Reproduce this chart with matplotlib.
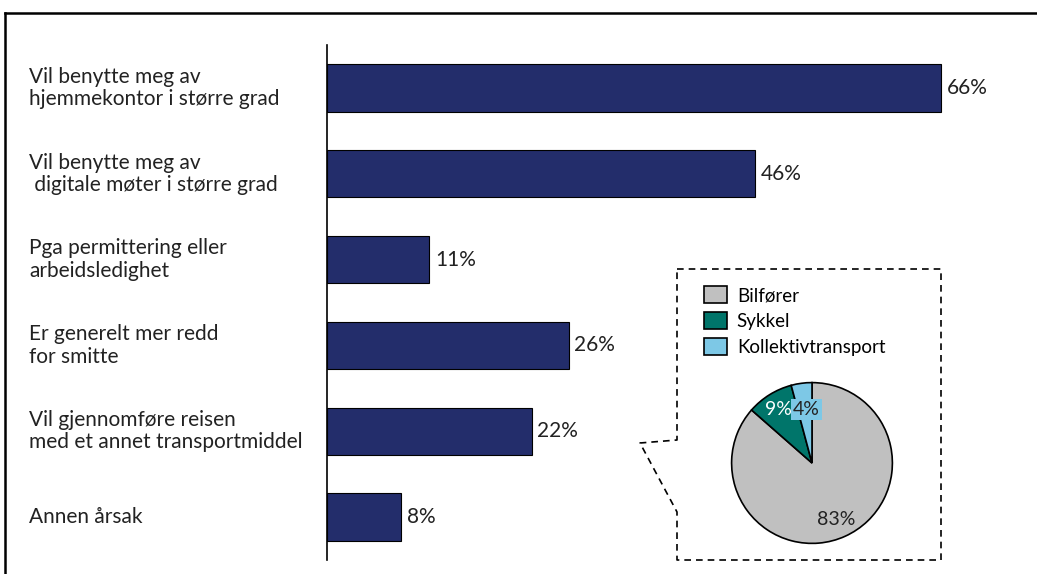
import matplotlib.pyplot as plt
from matplotlib import transforms
from matplotlib.lines import Line2D

plt.rcParams['font.family'] = ['Lato', 'DejaVu Sans']

# Årsaker til endret reisemønster (andel svar)
categories = [
    "Vil benytte meg av\nhjemmekontor i større grad",
    "Vil benytte meg av\n digitale møter i større grad",
    "Pga permittering eller\narbeidsledighet",
    "Er generelt mer redd\nfor smitte",
    "Vil gjennomføre reisen\nmed et annet transportmiddel",
    "Annen årsak",
]
shares = [66, 46, 11, 26, 22, 8]

# Transportmiddel blant de som bytter
modes = ["Bilfører", "Sykkel", "Kollektivtransport"]
mode_shares = [83, 9, 4]

W, H = 1037, 574
fig = plt.figure(figsize=(W / 100, H / 100), dpi=100)

def fx(px):
    return px / W

def fy(py):
    return 1 - py / H

# stolpediagram
ax = fig.add_axes([fx(327), fy(560), fx(1000) - fx(327), fy(45) - fy(560)])
ypos = list(range(len(categories)))
ax.barh(ypos, shares, height=0.55, color="#232D6B", edgecolor="black", linewidth=0.8)
ax.set_xlim(0, (1000 - 327) / 9.30)
ax.set_ylim(len(categories) - 0.5, -0.5)
for s in ["top", "right", "bottom"]:
    ax.spines[s].set_visible(False)
ax.spines["left"].set_linewidth(1.2)
ax.set_xticks([])
ax.set_yticks([])

for y, v in zip(ypos, shares):
    ax.text(v + 0.6, y, f"{v}%", va="center", ha="left", fontsize=15, color="#222222")

lab_tr = transforms.blended_transform_factory(fig.transFigure, ax.transData)
for y, c in zip(ypos, categories):
    ax.text(fx(29), y, c, transform=lab_tr, va="center", ha="left", fontsize=15,
            color="#222222", linespacing=1.15)

# ramme rundt figuren
fig.add_artist(Line2D([fx(5), 1], [fy(13), fy(13)], color="black", lw=1.8))
fig.add_artist(Line2D([fx(5), fx(5)], [fy(13), 0], color="black", lw=1.8))

# stiplet utsnitt rundt kakediagrammet
bx = [677, 941, 941, 677, 677, 640, 677, 677]
by = [269, 269, 560, 560, 512, 443, 440, 269]
fig.add_artist(Line2D([fx(x) for x in bx], [fy(y) for y in by], color="black",
                      lw=1.2, linestyle=(0, (4, 3))))

# kakediagram
r = 82
pax = fig.add_axes([fx(812 - r), fy(463 + r), fx(2 * r), 2 * r / H])
wedges, _ = pax.pie(mode_shares, colors=["#C0C0C0", "#00756A", "#7DC8E6"],
                    startangle=90, counterclock=False,
                    wedgeprops=dict(edgecolor="black", linewidth=1.2))
pax.set_xlim(-1.02, 1.02)
pax.set_ylim(-1.02, 1.02)

pax.text(0.30, -0.70, f"{mode_shares[0]}%", ha="center", va="center", fontsize=14, color="#222222")
pax.text(-0.42, 0.66, f"{mode_shares[1]}%", ha="center", va="center", fontsize=14, color="white")
pax.text(-0.07, 0.66, f"{mode_shares[2]}%", ha="center", va="center", fontsize=14, color="#222222",
         bbox=dict(boxstyle="square,pad=0.1", facecolor="#7DC8E6", edgecolor="none"))

fig.legend(wedges, modes, loc="upper left", bbox_to_anchor=(fx(704), fy(286)),
           frameon=False, fontsize=13.5, handlelength=1.25, handleheight=1.05,
           labelspacing=0.42, handletextpad=0.5, borderaxespad=0, borderpad=0)

fig.savefig("out.png", dpi=100, facecolor="white")
